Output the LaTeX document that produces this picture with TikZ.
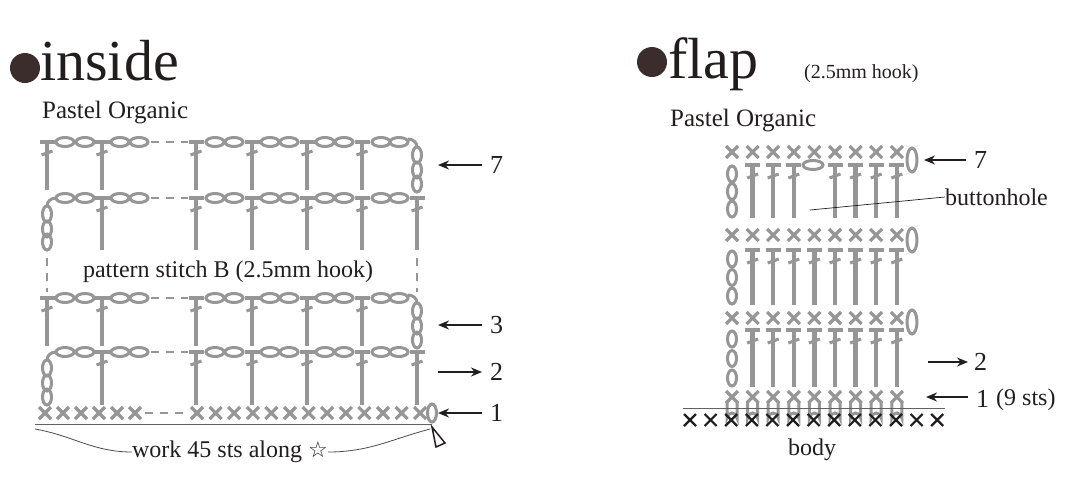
\documentclass[tikz,border=0pt]{standalone}
\usepackage{fontspec}
\setmainfont{Liberation Serif}
\newfontfamily\symf{DejaVu Sans}
\usetikzlibrary{arrows.meta}
\definecolor{stg}{RGB}{150,150,150}
\definecolor{ink}{RGB}{35,30,30}
\definecolor{dot}{RGB}{60,45,45}
\tikzset{
 st/.style={stg,line width=4.4pt},
 ch/.style={stg,line width=3pt},
 lbl/.style={inner sep=0pt,text=ink,font=\fontsize{24}{26}\selectfont},
 num/.style={lbl,anchor=west,font=\fontsize{26}{28}\selectfont},
 arr/.style={ink,line width=1.8pt,-{Stealth[length=11pt,width=9pt]}},
 dsh/.style={stg,line width=1.3pt,dash pattern=on 8pt off 7pt},
}
\newcommand\mydc[3]{\draw[st] (#1,#2) -- (#1,#3); \draw[st] (#1-7.5,#2) -- (#1+7.5,#2); \draw[st,line width=3pt] (#1-5.5,#2+13) -- (#1+5.5,#2+9);}
\newcommand\mych[2]{\draw[ch] (#1,#2) ellipse[x radius=9,y radius=4.5];}
\newcommand\mychv[2]{\draw[ch] (#1,#2) ellipse[x radius=4.5,y radius=8];}
\newcommand\myx[2]{\draw[st,line width=3.2pt] (#1-6,#2-6)--(#1+6,#2+6) (#1-6,#2+6)--(#1+6,#2-6);}
\begin{document}
\begin{tikzpicture}[x=1pt,y=-1pt]
\useasboundingbox (0,0) rectangle (1080,488);
% titles
\fill[dot] (25,68) circle (15);
\node[lbl,anchor=base west,font=\fontsize{58}{60}\selectfont] (t1) at (40,80) {inside};
\node[lbl,anchor=base west,font=\fontsize{25}{26}\selectfont] (p1) at (42,118) {Pastel Organic};
\fill[dot] (652,62) circle (15);
\node[lbl,anchor=base west,font=\fontsize{58}{60}\selectfont] (t2) at (668,78) {flap};
\node[lbl,anchor=base west,font=\fontsize{20}{21}\selectfont] (h2) at (804,78) {(2.5mm hook)};
\node[lbl,anchor=base west,font=\fontsize{25}{26}\selectfont] (p2) at (670,126) {Pastel Organic};

% ---------- LEFT CHART ----------
\foreach \y in {142,298}{
  \foreach \c in {47,102,196,252,307,362}{\mydc{\c}{\y}{\y+48}}
  \foreach \c in {65,85,120,139,215,234,270,289,325,344,381,399}{\mych{\c}{\y}}
  \draw[ch] (408,\y-3) to[out=0,in=90] (417,\y+5);
  \mychv{417}{\y+13}\mychv{417}{\y+28}\mychv{417}{\y+42}
  \draw[dsh] (151,\y) -- (188,\y);
}
\foreach \y/\b in {198/250,352/405}{
  \foreach \c in {102,196,252,307,362,417}{\mydc{\c}{\y}{\b}}
  \foreach \c in {65,85,120,139,215,234,270,289,325,344,381,399}{\mych{\c}{\y}}
  \draw[ch] (56,\y) to[out=180,in=90] (47,\y+8);
  \mychv{47}{\y+16}\mychv{47}{\y+31}\mychv{47}{\b-8}
  \draw[dsh] (151,\y) -- (188,\y);
}
\draw[dsh] (47,258) -- (47,292);
\draw[dsh] (417,258) -- (417,292);
\node[lbl,fill=white,inner sep=3pt] (pat) at (228,272) {pattern stitch B (2.5mm hook)};
\foreach \i in {0,...,5}{\myx{45+18*\i}{413}}
\foreach \i in {0,...,12}{\myx{197+18.6*\i}{413}}
\draw[dsh] (145,413) -- (188,413);
\draw[ch] (432,413) ellipse[x radius=4.5,y radius=9];
\draw[ink!70,line width=0.9pt] (35,424) -- (432,424);
\draw[ink,line width=1.5pt] (432,427) -- (445,443) -- (436,447) -- cycle;
\node[lbl] (work) at (230,452) {work 45 sts along {\symf\fontsize{22}{24}\selectfont ☆}};
\coordinate (wl) at (35,429); \coordinate (wr) at (430,429);
\draw[ink!80,line width=0.8pt] (wl) to[out=-10,in=180] (work.west);
\draw[ink!80,line width=0.8pt] (work.east) to[out=0,in=-165] (wr);
\foreach \y/\n in {165/7,325/3,413/1}{
  \coordinate (a\n s) at (482,\y); \coordinate (a\n e) at (438,\y);
  \draw[arr] (a\n s) -- (a\n e);
  \node[num] (n\n) at (490,\y) {\n};
}
\coordinate (a2s) at (438,372); \coordinate (a2e) at (482,372);
\draw[arr] (a2s) -- (a2e);
\node[num] (n2) at (490,372) {2};

% ---------- RIGHT CHART ----------
\def\cols{732,752.6,773.2,793.8,814.4,835,855.6,876.2,896.8}
\foreach \y in {152,235,318,397}{\foreach \c in \cols{\myx{\c}{\y}}}
\foreach \y in {160,240,322}{\draw[ch] (912,\y) ellipse[x radius=5,y radius=12];}
\foreach \t/\m/\b in {165/191.5/218,250/277.5/305,330/358.5/387}{
  \mychv{732}{\t+9}\mychv{732}{\m}\mychv{732}{\b-9}
}
\foreach \c in {752.6,773.2,793.8,835,855.6,876.2,896.8}{\mydc{\c}{165}{218}}
\draw[ch] (813,165) ellipse[x radius=10,y radius=4.5];
\foreach \t/\b in {250/305,330/387}{\foreach \c in {752.6,773.2,793.8,814.4,835,855.6,876.2,896.8}{\mydc{\c}{\t}{\b}}}
\foreach \c in \cols{\draw[ch] (\c-5,402) -- (\c-5,418) arc(180:360:5) -- (\c+5,402);}
\draw[ink!70,line width=0.9pt] (683,408) -- (945,408);
\foreach \i in {0,...,12}{\draw[ink,line width=2.2pt] (690+20.6*\i-6,414)--(690+20.6*\i+6,426) (690+20.6*\i-6,426)--(690+20.6*\i+6,414);}
\node[lbl] (body) at (812,450) {body};
\node[lbl,anchor=west] (bh) at (945,197) {buttonhole};
\coordinate (bhp) at (810,210);
\draw[ink,line width=0.7pt] (bhp) -- (bh.west);
\coordinate (r7s) at (966,160); \coordinate (r7e) at (924,160);
\draw[arr] (r7s) -- (r7e);
\node[num] (m7) at (974,160) {7};
\coordinate (r2s) at (928,362); \coordinate (r2e) at (968,362);
\draw[arr] (r2s) -- (r2e);
\node[num] (m2) at (974,362) {2};
\coordinate (r1s) at (968,397); \coordinate (r1e) at (926,397);
\draw[arr] (r1s) -- (r1e);
\node[num] (m1) at (976,399) {1};
\node[lbl,anchor=west] (nine) at (996,400) {(9 sts)};
\end{tikzpicture}
\end{document}
